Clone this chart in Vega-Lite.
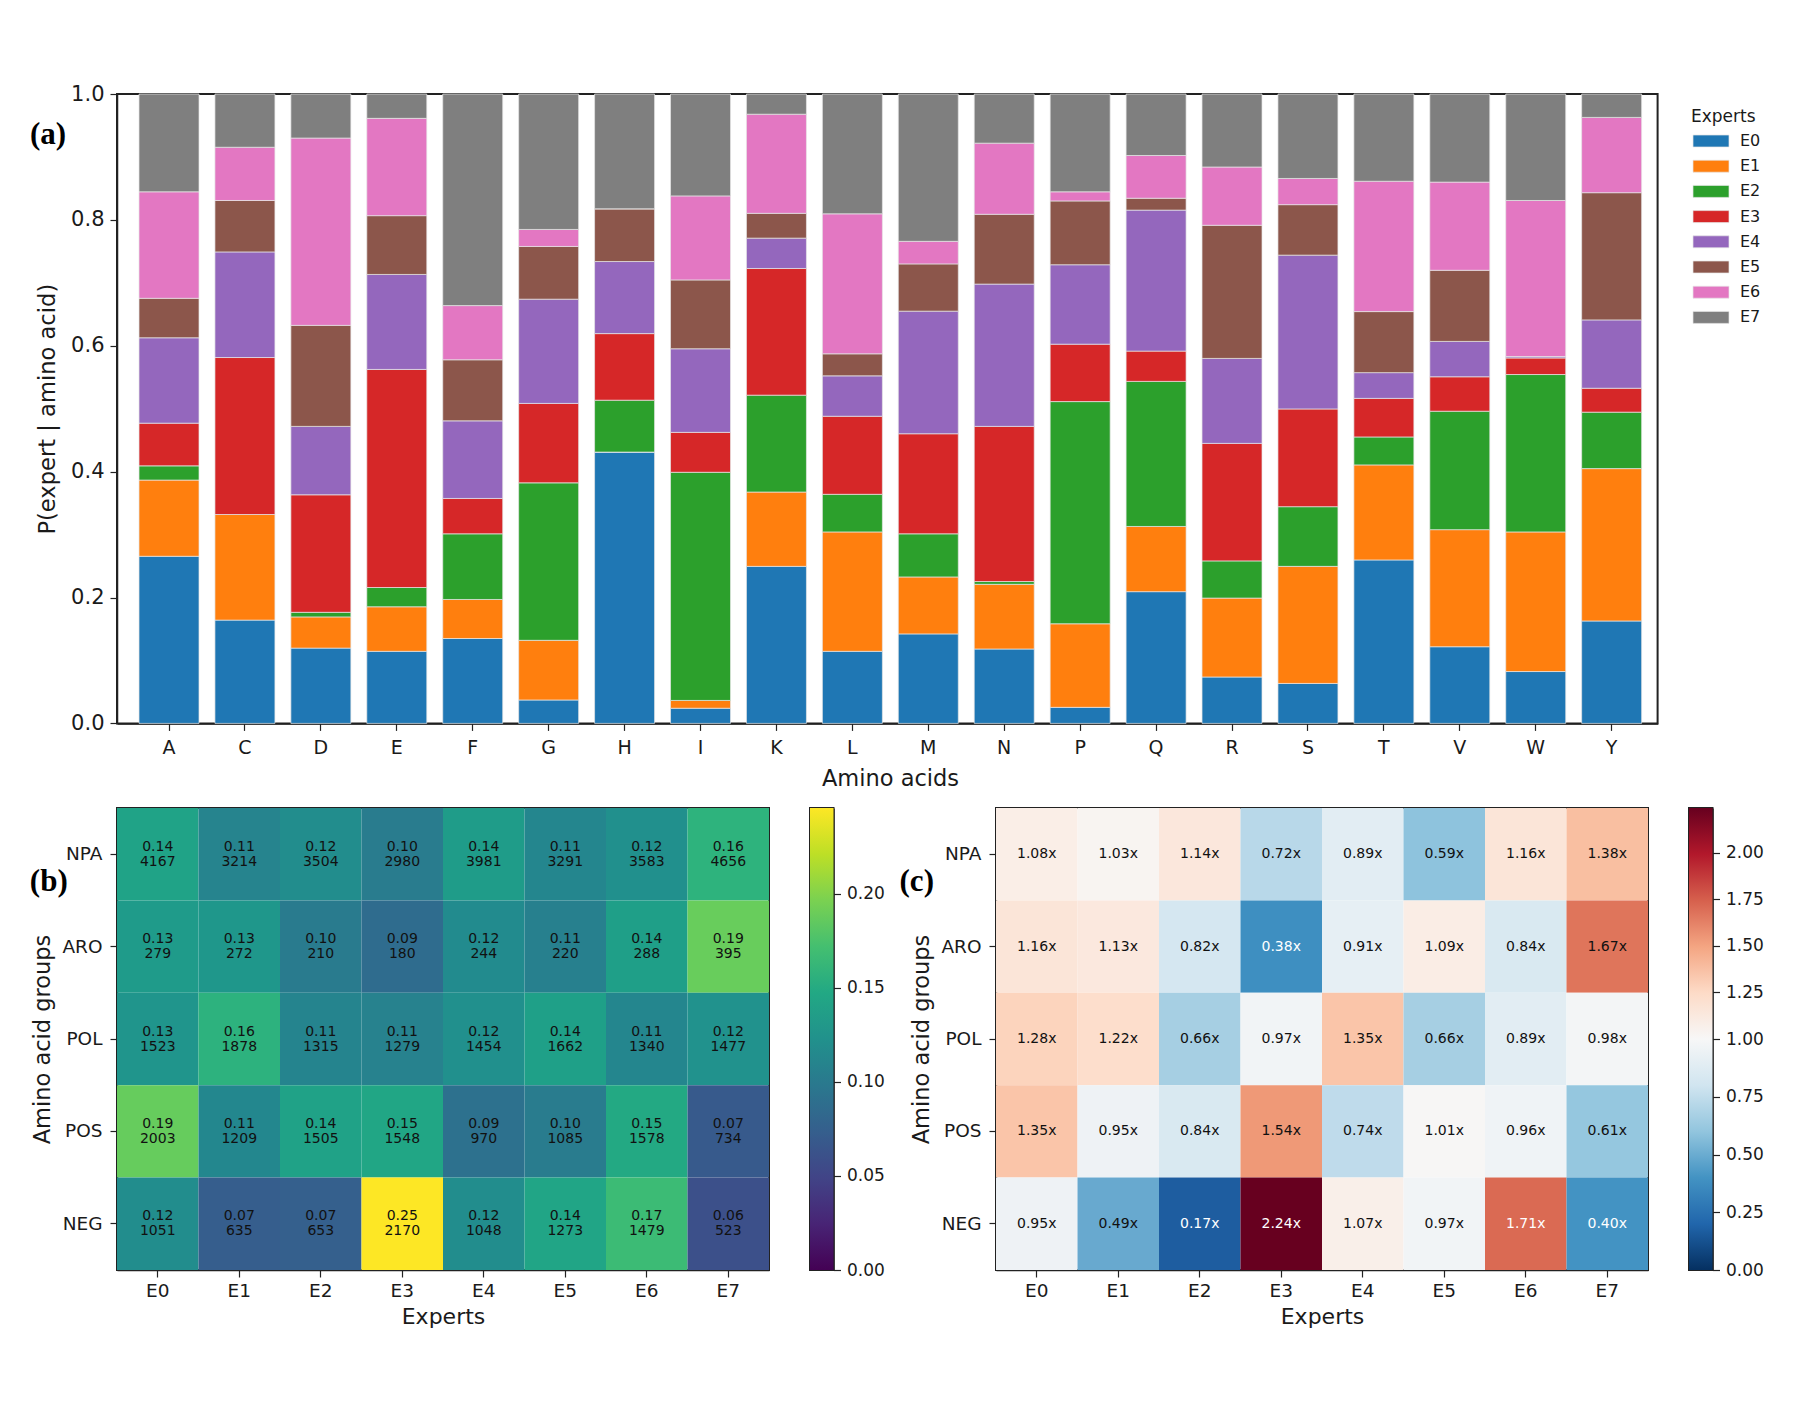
{
  "$schema": "https://vega.github.io/schema/vega-lite/v6.json",
  "background": "white",
  "padding": {"left": 28, "top": 82, "right": 0, "bottom": 0},
  "config": {
    "view": {"stroke": "#222222", "strokeWidth": 2},
    "axis": {
      "grid": false,
      "domainColor": "#222222",
      "domainWidth": 1.5,
      "tickColor": "#222222",
      "tickSize": 7,
      "tickWidth": 1.2,
      "labelColor": "#1a1a1a",
      "titleColor": "#1a1a1a",
      "labelFont": "DejaVu Sans",
      "titleFont": "DejaVu Sans",
      "titleFontWeight": "normal",
      "labelFontSize": 18.5,
      "titleFontSize": 22,
      "labelPadding": 6,
      "zindex": 1
    }
  },
  "datasets": {
    "bars": [
      {"aa":"A","expert":"E0","p":0.2655},{"aa":"A","expert":"E1","p":0.1211},{"aa":"A","expert":"E2","p":0.0226},{"aa":"A","expert":"E3","p":0.0678},{"aa":"A","expert":"E4","p":0.1357},{"aa":"A","expert":"E5","p":0.0627},{"aa":"A","expert":"E6","p":0.1692},{"aa":"A","expert":"E7","p":0.1554},
      {"aa":"C","expert":"E0","p":0.1641},{"aa":"C","expert":"E1","p":0.1678},{"aa":"C","expert":"E2","p":0},{"aa":"C","expert":"E3","p":0.2494},{"aa":"C","expert":"E4","p":0.1678},{"aa":"C","expert":"E5","p":0.0817},{"aa":"C","expert":"E6","p":0.0846},{"aa":"C","expert":"E7","p":0.0846},
      {"aa":"D","expert":"E0","p":0.1196},{"aa":"D","expert":"E1","p":0.0496},{"aa":"D","expert":"E2","p":0.0073},{"aa":"D","expert":"E3","p":0.1867},{"aa":"D","expert":"E4","p":0.1087},{"aa":"D","expert":"E5","p":0.1605},{"aa":"D","expert":"E6","p":0.2976},{"aa":"D","expert":"E7","p":0.07},
      {"aa":"E","expert":"E0","p":0.1145},{"aa":"E","expert":"E1","p":0.0708},{"aa":"E","expert":"E2","p":0.0306},{"aa":"E","expert":"E3","p":0.3465},{"aa":"E","expert":"E4","p":0.1509},{"aa":"E","expert":"E5","p":0.0934},{"aa":"E","expert":"E6","p":0.1546},{"aa":"E","expert":"E7","p":0.0387},
      {"aa":"F","expert":"E0","p":0.1349},{"aa":"F","expert":"E1","p":0.062},{"aa":"F","expert":"E2","p":0.1043},{"aa":"F","expert":"E3","p":0.0562},{"aa":"F","expert":"E4","p":0.1233},{"aa":"F","expert":"E5","p":0.097},{"aa":"F","expert":"E6","p":0.0861},{"aa":"F","expert":"E7","p":0.3362},
      {"aa":"G","expert":"E0","p":0.0372},{"aa":"G","expert":"E1","p":0.0948},{"aa":"G","expert":"E2","p":0.2502},{"aa":"G","expert":"E3","p":0.1262},{"aa":"G","expert":"E4","p":0.1656},{"aa":"G","expert":"E5","p":0.0838},{"aa":"G","expert":"E6","p":0.027},{"aa":"G","expert":"E7","p":0.2152},
      {"aa":"H","expert":"E0","p":0.4311},{"aa":"H","expert":"E1","p":0},{"aa":"H","expert":"E2","p":0.0824},{"aa":"H","expert":"E3","p":0.1058},{"aa":"H","expert":"E4","p":0.1145},{"aa":"H","expert":"E5","p":0.0838},{"aa":"H","expert":"E6","p":0},{"aa":"H","expert":"E7","p":0.1824},
      {"aa":"I","expert":"E0","p":0.0241},{"aa":"I","expert":"E1","p":0.0124},{"aa":"I","expert":"E2","p":0.3625},{"aa":"I","expert":"E3","p":0.0634},{"aa":"I","expert":"E4","p":0.1328},{"aa":"I","expert":"E5","p":0.1094},{"aa":"I","expert":"E6","p":0.1335},{"aa":"I","expert":"E7","p":0.1619},
      {"aa":"K","expert":"E0","p":0.2495},{"aa":"K","expert":"E1","p":0.1181},{"aa":"K","expert":"E2","p":0.1539},{"aa":"K","expert":"E3","p":0.2013},{"aa":"K","expert":"E4","p":0.0482},{"aa":"K","expert":"E5","p":0.0394},{"aa":"K","expert":"E6","p":0.1575},{"aa":"K","expert":"E7","p":0.0321},
      {"aa":"L","expert":"E0","p":0.1145},{"aa":"L","expert":"E1","p":0.1897},{"aa":"L","expert":"E2","p":0.0598},{"aa":"L","expert":"E3","p":0.124},{"aa":"L","expert":"E4","p":0.0642},{"aa":"L","expert":"E5","p":0.035},{"aa":"L","expert":"E6","p":0.2224},{"aa":"L","expert":"E7","p":0.1904},
      {"aa":"M","expert":"E0","p":0.1422},{"aa":"M","expert":"E1","p":0.0905},{"aa":"M","expert":"E2","p":0.0685},{"aa":"M","expert":"E3","p":0.159},{"aa":"M","expert":"E4","p":0.1948},{"aa":"M","expert":"E5","p":0.0751},{"aa":"M","expert":"E6","p":0.0358},{"aa":"M","expert":"E7","p":0.2341},
      {"aa":"N","expert":"E0","p":0.1182},{"aa":"N","expert":"E1","p":0.1028},{"aa":"N","expert":"E2","p":0.0044},{"aa":"N","expert":"E3","p":0.2465},{"aa":"N","expert":"E4","p":0.2261},{"aa":"N","expert":"E5","p":0.1109},{"aa":"N","expert":"E6","p":0.113},{"aa":"N","expert":"E7","p":0.0781},
      {"aa":"P","expert":"E0","p":0.0255},{"aa":"P","expert":"E1","p":0.1328},{"aa":"P","expert":"E2","p":0.353},{"aa":"P","expert":"E3","p":0.0912},{"aa":"P","expert":"E4","p":0.1262},{"aa":"P","expert":"E5","p":0.1014},{"aa":"P","expert":"E6","p":0.0145},{"aa":"P","expert":"E7","p":0.1554},
      {"aa":"Q","expert":"E0","p":0.2093},{"aa":"Q","expert":"E1","p":0.1036},{"aa":"Q","expert":"E2","p":0.2305},{"aa":"Q","expert":"E3","p":0.0481},{"aa":"Q","expert":"E4","p":0.224},{"aa":"Q","expert":"E5","p":0.0189},{"aa":"Q","expert":"E6","p":0.0679},{"aa":"Q","expert":"E7","p":0.0977},
      {"aa":"R","expert":"E0","p":0.0737},{"aa":"R","expert":"E1","p":0.1254},{"aa":"R","expert":"E2","p":0.0591},{"aa":"R","expert":"E3","p":0.1867},{"aa":"R","expert":"E4","p":0.135},{"aa":"R","expert":"E5","p":0.2115},{"aa":"R","expert":"E6","p":0.0926},{"aa":"R","expert":"E7","p":0.116},
      {"aa":"S","expert":"E0","p":0.0635},{"aa":"S","expert":"E1","p":0.186},{"aa":"S","expert":"E2","p":0.0948},{"aa":"S","expert":"E3","p":0.1553},{"aa":"S","expert":"E4","p":0.2444},{"aa":"S","expert":"E5","p":0.0802},{"aa":"S","expert":"E6","p":0.0416},{"aa":"S","expert":"E7","p":0.1342},
      {"aa":"T","expert":"E0","p":0.2597},{"aa":"T","expert":"E1","p":0.151},{"aa":"T","expert":"E2","p":0.0444},{"aa":"T","expert":"E3","p":0.0613},{"aa":"T","expert":"E4","p":0.0409},{"aa":"T","expert":"E5","p":0.097},{"aa":"T","expert":"E6","p":0.2071},{"aa":"T","expert":"E7","p":0.1386},
      {"aa":"V","expert":"E0","p":0.1218},{"aa":"V","expert":"E1","p":0.186},{"aa":"V","expert":"E2","p":0.1882},{"aa":"V","expert":"E3","p":0.0547},{"aa":"V","expert":"E4","p":0.0562},{"aa":"V","expert":"E5","p":0.113},{"aa":"V","expert":"E6","p":0.1401},{"aa":"V","expert":"E7","p":0.14},
      {"aa":"W","expert":"E0","p":0.0824},{"aa":"W","expert":"E1","p":0.2218},{"aa":"W","expert":"E2","p":0.2501},{"aa":"W","expert":"E3","p":0.0263},{"aa":"W","expert":"E4","p":0.0022},{"aa":"W","expert":"E5","p":0},{"aa":"W","expert":"E6","p":0.248},{"aa":"W","expert":"E7","p":0.1692},
      {"aa":"Y","expert":"E0","p":0.1627},{"aa":"Y","expert":"E1","p":0.2421},{"aa":"Y","expert":"E2","p":0.0897},{"aa":"Y","expert":"E3","p":0.038},{"aa":"Y","expert":"E4","p":0.1086},{"aa":"Y","expert":"E5","p":0.2021},{"aa":"Y","expert":"E6","p":0.1196},{"aa":"Y","expert":"E7","p":0.0372}
    ],
    "groups": [
      {"group":"NPA","expert":"E0","share":0.1418,"count":4167,"ratio":1.08,"ratioLabel":"1.08x"},
      {"group":"NPA","expert":"E1","share":0.1094,"count":3214,"ratio":1.03,"ratioLabel":"1.03x"},
      {"group":"NPA","expert":"E2","share":0.1193,"count":3504,"ratio":1.14,"ratioLabel":"1.14x"},
      {"group":"NPA","expert":"E3","share":0.1014,"count":2980,"ratio":0.72,"ratioLabel":"0.72x"},
      {"group":"NPA","expert":"E4","share":0.1355,"count":3981,"ratio":0.89,"ratioLabel":"0.89x"},
      {"group":"NPA","expert":"E5","share":0.112,"count":3291,"ratio":0.59,"ratioLabel":"0.59x"},
      {"group":"NPA","expert":"E6","share":0.122,"count":3583,"ratio":1.16,"ratioLabel":"1.16x"},
      {"group":"NPA","expert":"E7","share":0.1585,"count":4656,"ratio":1.38,"ratioLabel":"1.38x"},
      {"group":"ARO","expert":"E0","share":0.1336,"count":279,"ratio":1.16,"ratioLabel":"1.16x"},
      {"group":"ARO","expert":"E1","share":0.1303,"count":272,"ratio":1.13,"ratioLabel":"1.13x"},
      {"group":"ARO","expert":"E2","share":0.1006,"count":210,"ratio":0.82,"ratioLabel":"0.82x"},
      {"group":"ARO","expert":"E3","share":0.0862,"count":180,"ratio":0.38,"ratioLabel":"0.38x"},
      {"group":"ARO","expert":"E4","share":0.1169,"count":244,"ratio":0.91,"ratioLabel":"0.91x"},
      {"group":"ARO","expert":"E5","share":0.1054,"count":220,"ratio":1.09,"ratioLabel":"1.09x"},
      {"group":"ARO","expert":"E6","share":0.1379,"count":288,"ratio":0.84,"ratioLabel":"0.84x"},
      {"group":"ARO","expert":"E7","share":0.1892,"count":395,"ratio":1.67,"ratioLabel":"1.67x"},
      {"group":"POL","expert":"E0","share":0.1277,"count":1523,"ratio":1.28,"ratioLabel":"1.28x"},
      {"group":"POL","expert":"E1","share":0.1574,"count":1878,"ratio":1.22,"ratioLabel":"1.22x"},
      {"group":"POL","expert":"E2","share":0.1102,"count":1315,"ratio":0.66,"ratioLabel":"0.66x"},
      {"group":"POL","expert":"E3","share":0.1072,"count":1279,"ratio":0.97,"ratioLabel":"0.97x"},
      {"group":"POL","expert":"E4","share":0.1219,"count":1454,"ratio":1.35,"ratioLabel":"1.35x"},
      {"group":"POL","expert":"E5","share":0.1393,"count":1662,"ratio":0.66,"ratioLabel":"0.66x"},
      {"group":"POL","expert":"E6","share":0.1123,"count":1340,"ratio":0.89,"ratioLabel":"0.89x"},
      {"group":"POL","expert":"E7","share":0.1238,"count":1477,"ratio":0.98,"ratioLabel":"0.98x"},
      {"group":"POS","expert":"E0","share":0.1884,"count":2003,"ratio":1.35,"ratioLabel":"1.35x"},
      {"group":"POS","expert":"E1","share":0.1137,"count":1209,"ratio":0.95,"ratioLabel":"0.95x"},
      {"group":"POS","expert":"E2","share":0.1416,"count":1505,"ratio":0.84,"ratioLabel":"0.84x"},
      {"group":"POS","expert":"E3","share":0.1456,"count":1548,"ratio":1.54,"ratioLabel":"1.54x"},
      {"group":"POS","expert":"E4","share":0.0912,"count":970,"ratio":0.74,"ratioLabel":"0.74x"},
      {"group":"POS","expert":"E5","share":0.1021,"count":1085,"ratio":1.01,"ratioLabel":"1.01x"},
      {"group":"POS","expert":"E6","share":0.1484,"count":1578,"ratio":0.96,"ratioLabel":"0.96x"},
      {"group":"POS","expert":"E7","share":0.069,"count":734,"ratio":0.61,"ratioLabel":"0.61x"},
      {"group":"NEG","expert":"E0","share":0.119,"count":1051,"ratio":0.95,"ratioLabel":"0.95x"},
      {"group":"NEG","expert":"E1","share":0.0719,"count":635,"ratio":0.49,"ratioLabel":"0.49x"},
      {"group":"NEG","expert":"E2","share":0.0739,"count":653,"ratio":0.17,"ratioLabel":"0.17x"},
      {"group":"NEG","expert":"E3","share":0.2457,"count":2170,"ratio":2.24,"ratioLabel":"2.24x"},
      {"group":"NEG","expert":"E4","share":0.1187,"count":1048,"ratio":1.07,"ratioLabel":"1.07x"},
      {"group":"NEG","expert":"E5","share":0.1441,"count":1273,"ratio":0.97,"ratioLabel":"0.97x"},
      {"group":"NEG","expert":"E6","share":0.1675,"count":1479,"ratio":1.71,"ratioLabel":"1.71x"},
      {"group":"NEG","expert":"E7","share":0.0592,"count":523,"ratio":0.4,"ratioLabel":"0.40x"}
    ]
  },
  "spacing": 16,
  "resolve": {"scale": {"color": "independent"}},
  "vconcat": [
    {
      "width": 1540.6,
      "height": 629.4,
      "layer": [
        {
          "data": {"name": "bars"},
          "mark": {"type": "bar", "stroke": "#e6e6e6", "strokeWidth": 0.7},
          "encoding": {
            "x": {
              "field": "aa",
              "type": "nominal",
              "title": "Amino acids",
              "scale": {"paddingInner": 0.21, "paddingOuter": 0.25, "align": 0.58},
              "axis": {"labelAngle": 0, "labelFontSize": 19, "labelPadding": 8, "titlePadding": 10, "titleFontSize": 22.5, "titleX": 773}
            },
            "y": {
              "field": "p",
              "type": "quantitative",
              "stack": "zero",
              "title": "P(expert | amino acid)",
              "scale": {"domain": [0, 1], "nice": false},
              "axis": {"values": [0, 0.2, 0.4, 0.6, 0.8, 1], "format": ".1f", "labelFontSize": 21, "titlePadding": 11, "titleFontSize": 22.6}
            },
            "order": {"field": "expert", "sort": "ascending"},
            "color": {
              "field": "expert",
              "type": "nominal",
              "title": "Experts",
              "scale": {
                "domain": ["E0", "E1", "E2", "E3", "E4", "E5", "E6", "E7"],
                "range": ["#1f77b4", "#ff7f0e", "#2ca02c", "#d62728", "#9467bd", "#8c564b", "#e377c2", "#7f7f7f"]
              },
              "legend": {
                "orient": "none",
                "legendX": 1574,
                "legendY": 15,
                "titleFont": "DejaVu Sans",
                "titleFontWeight": "normal",
                "titleFontSize": 17,
                "titleColor": "#1a1a1a",
                "labelFont": "DejaVu Sans",
                "labelFontSize": 16,
                "labelColor": "#1a1a1a",
                "labelOffset": 33,
                "symbolType": "M-1,-1H5V1H-1Z",
                "symbolSize": 144,
                "symbolStrokeWidth": 0.7,
                "symbolStrokeColor": "#e6e6e6",
                "rowPadding": 9.2,
                "titlePadding": 7
              }
            }
          }
        },
        {
          "data": {"values": [{"aa": "A", "p": 0.935, "panel": "(a)"}]},
          "mark": {"type": "text", "font": "Liberation Serif", "fontWeight": "bold", "fontSize": 31, "dx": -121, "color": "black"},
          "encoding": {
            "x": {"field": "aa", "type": "nominal"},
            "y": {"field": "p", "type": "quantitative"},
            "text": {"field": "panel"}
          }
        }
      ]
    },
    {
      "spacing": 12,
      "resolve": {"scale": {"color": "independent"}},
      "hconcat": [
        {
          "spacing": 39,
          "hconcat": [
            {
              "width": 652,
              "height": 462,
              "data": {"name": "groups"},
              "encoding": {
                "x": {
                  "field": "expert",
                  "type": "nominal",
                  "title": "Experts",
                  "axis": {"labelAngle": 0, "labelPadding": 4, "titlePadding": 7}
                },
                "y": {
                  "field": "group",
                  "type": "nominal",
                  "title": "Amino acid groups",
                  "sort": ["NPA", "ARO", "POL", "POS", "NEG"],
                  "axis": {"labelPadding": 8, "titlePadding": 7, "titleFontSize": 22.5}
                }
              },
              "layer": [
                {
                  "mark": {"type": "rect"},
                  "encoding": {
                    "color": {
                      "field": "share",
                      "type": "quantitative",
                      "legend": null,
                      "scale": {"scheme": "viridis", "domain": [0, 0.2455], "nice": false}
                    }
                  }
                },
                {
                  "mark": {"type": "text", "font": "DejaVu Sans", "fontSize": 14, "dy": -7.5, "color": "#111111"},
                  "encoding": {"text": {"field": "share", "type": "quantitative", "format": ".2f"}}
                },
                {
                  "mark": {"type": "text", "font": "DejaVu Sans", "fontSize": 14, "dy": 7.5, "color": "#111111"},
                  "encoding": {"text": {"field": "count", "type": "quantitative", "format": "d"}}
                },
                {
                  "data": {"values": [{"expert": "E0", "group": "NPA", "panel": "(b)"}]},
                  "mark": {"type": "text", "font": "Liberation Serif", "fontWeight": "bold", "fontSize": 31, "dx": -109, "dy": 28, "color": "black"},
                  "encoding": {"text": {"field": "panel"}}
                }
              ]
            },
            {
              "width": 23.5,
              "height": 462,
              "data": {"values": [{"low": 0, "high": 0.2455}]},
              "mark": {
                "type": "rect",
                "fill": {
                  "gradient": "linear",
                  "x1": 0, "y1": 1, "x2": 0, "y2": 0,
                  "stops": [
                    {"offset": 0, "color": "#440154"},
                    {"offset": 0.1, "color": "#482475"},
                    {"offset": 0.2, "color": "#414487"},
                    {"offset": 0.3, "color": "#355f8d"},
                    {"offset": 0.4, "color": "#2a788e"},
                    {"offset": 0.5, "color": "#21918c"},
                    {"offset": 0.6, "color": "#22a884"},
                    {"offset": 0.7, "color": "#44bf70"},
                    {"offset": 0.8, "color": "#7ad151"},
                    {"offset": 0.9, "color": "#bddf26"},
                    {"offset": 1, "color": "#fde725"}
                  ]
                }
              },
              "encoding": {
                "y": {
                  "field": "low",
                  "type": "quantitative",
                  "title": null,
                  "scale": {"domain": [0, 0.2455], "nice": false},
                  "axis": {"orient": "right", "values": [0, 0.05, 0.1, 0.15, 0.2], "format": ".2f", "labelFontSize": 17}
                },
                "y2": {"field": "high"}
              }
            }
          ]
        },
        {
          "spacing": 39,
          "hconcat": [
            {
              "width": 652,
              "height": 462,
              "data": {"name": "groups"},
              "encoding": {
                "x": {
                  "field": "expert",
                  "type": "nominal",
                  "title": "Experts",
                  "axis": {"labelAngle": 0, "labelPadding": 4, "titlePadding": 7}
                },
                "y": {
                  "field": "group",
                  "type": "nominal",
                  "title": "Amino acid groups",
                  "sort": ["NPA", "ARO", "POL", "POS", "NEG"],
                  "axis": {"labelPadding": 8, "titlePadding": 7, "titleFontSize": 22.5}
                }
              },
              "layer": [
                {
                  "mark": {"type": "rect"},
                  "encoding": {
                    "color": {
                      "field": "ratio",
                      "type": "quantitative",
                      "legend": null,
                      "scale": {
                        "domain": [0, 0.2, 0.4, 0.6, 0.8, 1, 1.248, 1.496, 1.744, 1.992, 2.24],
                        "range": ["#053061", "#2166ac", "#4393c3", "#92c5de", "#d1e5f0", "#f7f7f7", "#fddbc7", "#f4a582", "#d6604d", "#b2182b", "#67001f"]
                      }
                    }
                  }
                },
                {
                  "mark": {"type": "text", "font": "DejaVu Sans", "fontSize": 14},
                  "encoding": {
                    "text": {"field": "ratioLabel"},
                    "color": {
                      "condition": {"test": "datum.ratio < 0.45 || datum.ratio > 1.7", "value": "white"},
                      "value": "#111111"
                    }
                  }
                },
                {
                  "data": {"values": [{"expert": "E0", "group": "NPA", "panel": "(c)"}]},
                  "mark": {"type": "text", "font": "Liberation Serif", "fontWeight": "bold", "fontSize": 31, "dx": -120, "dy": 28, "color": "black"},
                  "encoding": {"text": {"field": "panel"}}
                }
              ]
            },
            {
              "width": 23.5,
              "height": 462,
              "data": {"values": [{"low": 0, "high": 2.24}]},
              "mark": {
                "type": "rect",
                "fill": {
                  "gradient": "linear",
                  "x1": 0, "y1": 1, "x2": 0, "y2": 0,
                  "stops": [
                    {"offset": 0, "color": "#053061"},
                    {"offset": 0.1, "color": "#2166ac"},
                    {"offset": 0.2, "color": "#4393c3"},
                    {"offset": 0.3, "color": "#92c5de"},
                    {"offset": 0.4, "color": "#d1e5f0"},
                    {"offset": 0.5, "color": "#f7f7f7"},
                    {"offset": 0.6, "color": "#fddbc7"},
                    {"offset": 0.7, "color": "#f4a582"},
                    {"offset": 0.8, "color": "#d6604d"},
                    {"offset": 0.9, "color": "#b2182b"},
                    {"offset": 1, "color": "#67001f"}
                  ]
                }
              },
              "encoding": {
                "y": {
                  "field": "low",
                  "type": "quantitative",
                  "title": null,
                  "scale": {"domain": [0, 1, 2.24], "range": [462, 231, 0], "nice": false},
                  "axis": {"orient": "right", "values": [0, 0.25, 0.5, 0.75, 1, 1.25, 1.5, 1.75, 2], "format": ".2f", "labelFontSize": 17}
                },
                "y2": {"field": "high"}
              }
            }
          ]
        }
      ]
    }
  ]
}
